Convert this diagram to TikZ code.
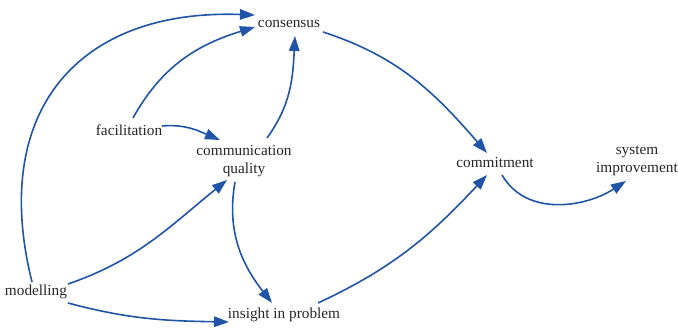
\documentclass[tikz,border=0pt]{standalone}
\usepackage{fontspec}
\setmainfont{Liberation Serif}
\usetikzlibrary{arrows.meta,calc}
\definecolor{arr}{RGB}{31,84,166}
\definecolor{txt}{RGB}{38,38,38}
\tikzset{
  lbl/.style={inner sep=0pt,align=center,text=txt,font=\fontsize{15.3}{18}\selectfont},
  conn/.style={draw=arr,line width=1.6pt,-{Triangle[length=15pt,width=10.5pt]},arr}
}
\begin{document}
\begin{tikzpicture}[x=1pt,y=1pt]
\useasboundingbox (0,0) rectangle (678,-328);
\node[lbl] (cons) at (289,-24) {consensus};
\node[lbl] (fac) at (129,-130) {facilitation};
\node[lbl] (comm) at (244,-161) {communication\\quality};
\node[lbl] (commit) at (495,-163) {commitment};
\node[lbl] (sys) at (637,-161) {system\\improvement};
\node[lbl] (mod) at (36,-292) {modelling};
\node[lbl] (ins) at (284,-315) {insight in problem};

\draw[conn] ($(mod)+(-4,10)$) to[out=104,in=178,looseness=1.3] ($(cons)+(-34,9)$);
\draw[conn] ($(fac)+(4,12)$) to[out=61,in=197] ($(cons)+(-34,-3)$);
\draw[conn] ($(fac)+(33,4)$) to[out=5,in=157] ($(comm)+(-24,21)$);
\draw[conn] ($(comm)+(23,23)$) to[out=54,in=267] ($(cons)+(6,-12)$);
\draw[conn] ($(cons)+(34,-8)$) to[out=-18,in=131] ($(commit)+(-8,10)$);
\draw[conn] ($(mod)+(32,8)$) to[out=19,in=219] ($(comm)+(-17,-19)$);
\draw[conn] ($(comm)+(-9,-21)$) to[out=260,in=128] ($(ins)+(-12,12)$);
\draw[conn] ($(mod)+(32,-11)$) to[out=-15,in=179] ($(ins)+(-55,-7)$);
\draw[conn] ($(ins)+(34,12)$) to[out=25,in=227] ($(commit)+(-8,-12)$);
\draw[conn] ($(commit)+(7,-12)$) to[out=-60,in=213] ($(sys)+(-11,-20)$);
\end{tikzpicture}
\end{document}
